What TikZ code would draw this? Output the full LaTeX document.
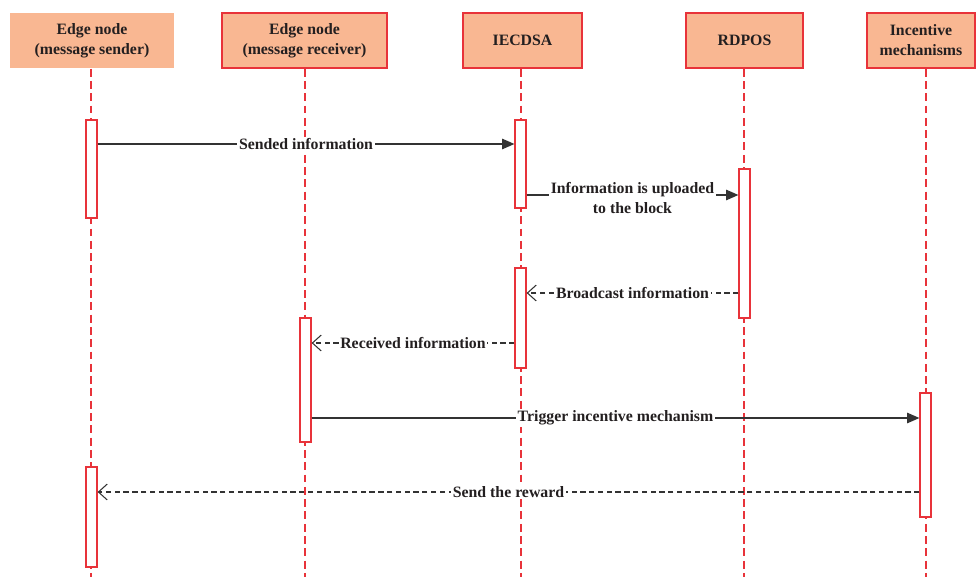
\documentclass[tikz,border=0pt]{standalone}
\usepackage{fontspec}
\setmainfont{Liberation Serif}
\usetikzlibrary{arrows.meta}
\definecolor{boxfill}{HTML}{F9B792}
\definecolor{boxred}{HTML}{E8333A}
\definecolor{msgc}{HTML}{333333}
\definecolor{txt}{HTML}{231F20}
\begin{document}
\begin{tikzpicture}[x=0.02cm,y=-0.02cm,
  lbl/.style={font=\bfseries\fontsize{9}{11.3}\selectfont, text=txt, align=center},
  head/.style={lbl, draw=boxred, line width=0.8pt, fill=boxfill, minimum height=1.1cm, inner sep=0pt},
  life/.style={draw=boxred, line width=0.7pt, dash pattern=on 4.5pt off 2.5pt},
  bar/.style={draw=boxred, line width=0.7pt, fill=white, minimum width=0.22cm, inner sep=0pt},
  msgline/.style={draw=msgc, line width=0.6pt},
  sync/.style={msgline, -{Triangle[length=7pt,width=6pt]}},
  reply/.style={msgline, dash pattern=on 3pt off 2pt, -{Straight Barb[length=5pt,width=9pt,line width=0.6pt]}},
  mlbl/.style={lbl, fill=white, inner sep=1pt}
]
\useasboundingbox (0,0) rectangle (976,577);
% headers
\node[head, draw=none, minimum width=3.28cm] (h1) at (92,40.5) {Edge node\\(message sender)};
\node[head, minimum width=3.3cm] (h2) at (304.5,40.5) {Edge node\\(message receiver)};
\node[head, minimum width=2.38cm] (h3) at (522.5,40.5) {IECDSA};
\node[head, minimum width=2.34cm] (h4) at (744.5,40.5) {RDPOS};
\node[head, minimum width=2.16cm] (h5) at (921,40.5) {Incentive\\mechanisms};
% lifelines
\foreach \h/\x in {h1/91,h2/305,h3/521,h4/744,h5/926}{
  \coordinate (\h end) at (\x,577);
  \draw[life] (\h.south -| \h end) -- (\h end);
}
% activation bars
\node[bar, minimum height=1.96cm] (b1) at (91.5,169) {};
\node[bar, minimum height=2.0cm] (b2) at (91.5,517) {};
\node[bar, minimum height=2.48cm] (b3) at (305.5,380) {};
\node[bar, minimum height=1.76cm] (b4) at (520.5,164) {};
\node[bar, minimum height=2.0cm] (b5) at (520.5,318) {};
\node[bar, minimum height=2.98cm] (b6) at (744.5,243.5) {};
\node[bar, minimum height=2.48cm] (b7) at (925.5,455) {};
% messages
\coordinate (m1) at (0,144);
\draw[sync] (b1.east |- m1) -- node[mlbl] {Sended information} (b4.west |- m1);
\coordinate (m2) at (0,195);
\draw[sync] (b4.east |- m2) -- node[mlbl, yshift=-0.06cm] {Information is uploaded\\to the block} (b6.west |- m2);
\coordinate (m3) at (0,293);
\draw[reply] (b6.west |- m3) -- node[mlbl] {Broadcast information} (b5.east |- m3);
\coordinate (m4) at (0,343);
\draw[reply] (b5.west |- m4) -- node[mlbl] {Received information} (b3.east |- m4);
\coordinate (m5) at (0,418);
\draw[sync] (b3.east |- m5) -- node[mlbl] {Trigger incentive mechanism} (b7.west |- m5);
\coordinate (m6) at (0,492);
\draw[reply] (b7.west |- m6) -- node[mlbl] {Send the reward} (b2.east |- m6);
\end{tikzpicture}
\end{document}
